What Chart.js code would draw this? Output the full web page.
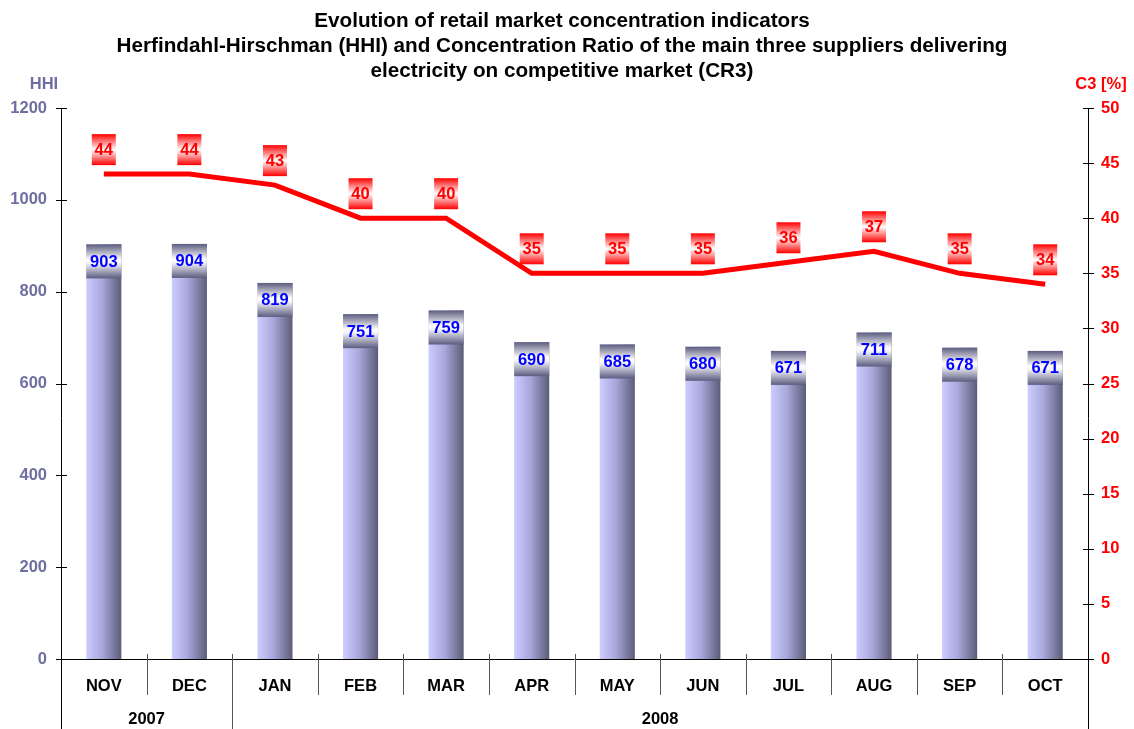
<!DOCTYPE html>
<html>
<head>
<meta charset="utf-8">
<script src="https://cdn.jsdelivr.net/npm/chart.js@4.4.0/dist/chart.umd.min.js"></script>
<style>
  body { margin: 0; background: #fff; }
  #wrap { width: 1134px; height: 729px; position: relative; }
</style>
</head>
<body>
<div id="wrap"><canvas id="hhiChart"></canvas></div>
<script>
// Data
const months = ['NOV', 'DEC', 'JAN', 'FEB', 'MAR', 'APR', 'MAY', 'JUN', 'JUL', 'AUG', 'SEP', 'OCT'];
const years = [{ label: '2007', from: 0, to: 1 }, { label: '2008', from: 2, to: 11 }];
const hhiValues = [903, 904, 819, 751, 759, 690, 685, 680, 671, 711, 678, 671];
const cr3Values = [44, 44, 43, 40, 40, 35, 35, 35, 36, 37, 35, 34];
const hhiTicks = [0, 200, 400, 600, 800, 1000, 1200];
const cr3Ticks = [0, 5, 10, 15, 20, 25, 30, 35, 40, 45, 50];
const titleLines = [
    'Evolution of retail market concentration indicators',
    'Herfindahl-Hirschman (HHI) and Concentration Ratio of the main three suppliers delivering',
    'electricity on competitive market (CR3)'
];

const FONT = 'bold 16.5px "Liberation Sans", Arial, sans-serif';
const HHI_COLOR = '#6e6ea0';
const CR3_COLOR = '#ff0000';
const BAR_W = 35;

// horizontal cylinder-like gradient for each bar
function barGradient(context) {
    const chart = context.chart;
    const xScale = chart.scales.x;
    if (!xScale || context.dataIndex === undefined) return '#a0a0d0';
    const cx = xScale.getPixelForValue(context.dataIndex);
    if (!isFinite(cx)) return '#a0a0d0';
    const g = chart.ctx.createLinearGradient(cx - BAR_W / 2, 0, cx + BAR_W / 2, 0);
    g.addColorStop(0, '#ccccff');
    g.addColorStop(0.45, '#a8a8dc');
    g.addColorStop(1, '#5c5c78');
    return g;
}

// title, axes decorations, two-level category axis, value boxes
const decorPlugin = {
    id: 'decor',
    afterDraw(chart) {
        const ctx = chart.ctx;
        const area = chart.chartArea;
        const x = chart.scales.x;
        const yL = chart.scales.y;
        const yR = chart.scales.y1;
        ctx.save();

        // title
        ctx.fillStyle = '#000';
        ctx.font = 'bold 20.7px "Liberation Sans", Arial, sans-serif';
        ctx.textAlign = 'center';
        ctx.textBaseline = 'middle';
        titleLines.forEach((t, i) => ctx.fillText(t, 562, 21 + i * 25));

        // axis titles
        ctx.font = FONT;
        ctx.fillStyle = HHI_COLOR;
        ctx.fillText('HHI', 44, 84);
        ctx.fillStyle = CR3_COLOR;
        ctx.fillText('C3 [%]', 1101, 84);

        // axis lines
        ctx.strokeStyle = '#000';
        ctx.lineWidth = 1;
        ctx.beginPath();
        ctx.moveTo(area.left + 0.5, area.top);
        ctx.lineTo(area.left + 0.5, 729);
        ctx.moveTo(area.right + 0.5, area.top);
        ctx.lineTo(area.right + 0.5, 729);
        ctx.moveTo(area.left - 5, area.bottom + 0.5);
        ctx.lineTo(area.right + 5, area.bottom + 0.5);
        ctx.stroke();

        // tick marks crossing the y axes
        ctx.beginPath();
        hhiTicks.forEach(v => {
            const py = Math.round(yL.getPixelForValue(v)) + 0.5;
            ctx.moveTo(area.left - 5, py);
            ctx.lineTo(area.left + 6, py);
        });
        cr3Ticks.forEach(v => {
            const py = Math.round(yR.getPixelForValue(v)) + 0.5;
            ctx.moveTo(area.right - 5, py);
            ctx.lineTo(area.right + 6, py);
        });
        ctx.stroke();

        // y tick labels
        ctx.font = FONT;
        ctx.fillStyle = HHI_COLOR;
        ctx.textAlign = 'right';
        hhiTicks.forEach(v => ctx.fillText(String(v), area.left - 14, yL.getPixelForValue(v)));
        ctx.fillStyle = CR3_COLOR;
        ctx.textAlign = 'left';
        cr3Ticks.forEach(v => ctx.fillText(String(v), area.right + 13, yR.getPixelForValue(v)));

        // category separators and month labels
        const half = (x.getPixelForValue(1) - x.getPixelForValue(0)) / 2;
        ctx.strokeStyle = '#555';
        ctx.beginPath();
        months.forEach((m, i) => {
            if (i > 0) {
                const sx = Math.round(x.getPixelForValue(i) - half) + 0.5;
                const isYearEdge = years.some(yr => yr.from === i);
                ctx.moveTo(sx, area.bottom - 5);
                ctx.lineTo(sx, isYearEdge ? 729 : area.bottom + 36);
            }
        });
        ctx.stroke();

        ctx.fillStyle = '#000';
        ctx.textAlign = 'center';
        months.forEach((m, i) => ctx.fillText(m, x.getPixelForValue(i), 686));
        years.forEach(yr => {
            const cx = (x.getPixelForValue(yr.from) + x.getPixelForValue(yr.to)) / 2;
            ctx.fillText(yr.label, cx, 719);
        });

        // value boxes on bars
        const barMeta = chart.getDatasetMeta(1);
        barMeta.data.forEach((bar, i) => {
            const bx = bar.x - BAR_W / 2;
            const by = bar.y;
            const bh = 34;
            const g = ctx.createLinearGradient(0, by, 0, by + bh);
            g.addColorStop(0, '#5c5c80');
            g.addColorStop(0.45, '#ffffff');
            g.addColorStop(0.55, '#f4f4fa');
            g.addColorStop(1, '#5c5c80');
            ctx.fillStyle = g;
            ctx.fillRect(bx, by, BAR_W, bh);
            ctx.fillStyle = '#0000ff';
            ctx.fillText(String(hhiValues[i]), bar.x, by + bh / 2 + 1);
        });

        // value boxes above line points
        const lineMeta = chart.getDatasetMeta(0);
        lineMeta.data.forEach((pt, i) => {
            const bw = 24, bh = 31;
            const bx = pt.x - bw / 2;
            const by = pt.y - 9 - bh;
            const g = ctx.createLinearGradient(0, by, 0, by + bh);
            g.addColorStop(0, '#ff0000');
            g.addColorStop(0.5, '#ffffff');
            g.addColorStop(1, '#ff0000');
            ctx.fillStyle = g;
            ctx.fillRect(bx, by, bw, bh);
            ctx.fillStyle = CR3_COLOR;
            ctx.fillText(String(cr3Values[i]), pt.x, by + bh / 2 + 1);
        });

        ctx.restore();
    }
};

new Chart(document.getElementById('hhiChart'), {
    data: {
        labels: months,
        datasets: [{
            type: 'line',
            label: 'CR3',
            data: cr3Values,
            yAxisID: 'y1',
            borderColor: CR3_COLOR,
            borderWidth: 5,
            pointRadius: 0,
            tension: 0,
            order: 0
        }, {
            type: 'bar',
            label: 'HHI',
            data: hhiValues,
            yAxisID: 'y',
            backgroundColor: barGradient,
            borderWidth: 0,
            categoryPercentage: 1,
            barPercentage: 0.41,
            order: 1
        }]
    },
    plugins: [decorPlugin],
    options: {
        responsive: true,
        maintainAspectRatio: false,
        animation: false,
        layout: { padding: { top: 108, left: 61, right: 46, bottom: 70 } },
        plugins: {
            legend: { display: false },
            tooltip: { enabled: false }
        },
        scales: {
            x: {
                display: false,
                offset: true,
                grid: { display: false }
            },
            y: {
                display: false,
                position: 'left',
                min: 0,
                max: 1200,
                ticks: { stepSize: 200 },
                grid: { display: false }
            },
            y1: {
                display: false,
                position: 'right',
                min: 0,
                max: 50,
                ticks: { stepSize: 5 },
                grid: { display: false }
            }
        }
    }
});
</script>
</body>
</html>
